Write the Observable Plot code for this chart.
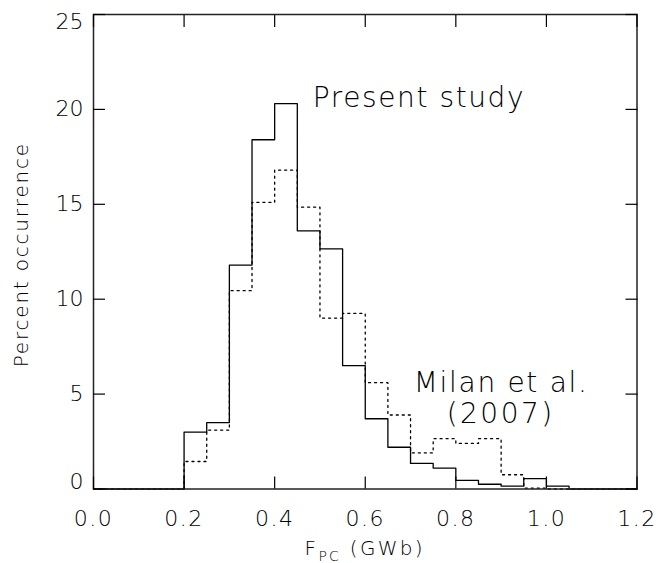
<!DOCTYPE html>
<html><head><meta charset="utf-8">
<script src="https://cdn.jsdelivr.net/npm/d3@7"></script>
<script src="https://cdn.jsdelivr.net/npm/@observablehq/plot@0.6"></script>
<style>body{margin:0;background:#fff} svg{display:block}</style>
</head><body><div id="chart"></div>
<script>
// Histogram bin starts (GWb), bin width 0.05
const binStarts = [0.20,0.25,0.30,0.35,0.40,0.45,0.50,0.55,0.60,0.65,0.70,0.75,0.80,0.85,0.90,0.95,1.00];
const binWidth = 0.05;
// Percent occurrence, present study (solid)
const presentStudy = [3.0,3.5,11.8,18.4,20.3,13.6,12.65,6.5,3.7,2.2,1.35,1.1,0.45,0.25,0.15,0.55,0.15];
// Percent occurrence, Milan et al. (2007) (dotted)
const milan2007 = [1.45,3.1,10.45,15.1,16.8,14.85,9.0,9.25,5.6,3.9,1.9,2.65,2.4,2.65,0.75,0.05,0];
const xTicks = [0.0,0.2,0.4,0.6,0.8,1.0,1.2];
const yTicks = [0,5,10,15,20,25];
const annotations = [
  {x:0.484, y:20.6, text:"Present study", anchor:"start"},
  {x:0.707, y:5.56, text:"Milan et al.", anchor:"start"},
  {x:0.899, y:3.95, text:"(2007)", anchor:"middle"}
];
const yLabel = "Percent occurrence";

function steps(values){
  const pts=[{x:xTicks[0],y:0}];
  binStarts.forEach((s,i)=>pts.push({x:s,y:values[i]}));
  pts.push({x:binStarts[binStarts.length-1]+binWidth,y:0});
  pts.push({x:xTicks[xTicks.length-1],y:0});
  return pts;
}

const font = "DejaVu Sans";
const xFmt = d3.format(".1f");
const plot = Plot.plot({
  width:664, height:563,
  marginLeft:93, marginRight:27.5, marginTop:14, marginBottom:74.5,
  style:{fontFamily:font, fontSize:"22px", fontWeight:200, color:"#000", background:"#fff"},
  x:{domain:[0,1.2]},
  y:{domain:[0,25]},
  marks:[
    Plot.line(steps(milan2007), {x:"x", y:"y", curve:"step-after", stroke:"#000", strokeWidth:1.3, strokeDasharray:"2,4"}),
    Plot.line(steps(presentStudy), {x:"x", y:"y", curve:"step-after", stroke:"#000", strokeWidth:1.3}),
    Plot.frame({stroke:"#222", strokeWidth:1.5}),
    Plot.axisX(xTicks, {anchor:"bottom", tickSize:-12, tickFormat:()=>"", label:null, strokeWidth:1.2}),
    Plot.axisX(xTicks, {anchor:"top", tickSize:-12, tickFormat:()=>"", label:null, strokeWidth:1.2}),
    Plot.axisY(yTicks, {anchor:"left", tickSize:-12, tickFormat:()=>"", label:null, strokeWidth:1.2}),
    Plot.axisY(yTicks, {anchor:"right", tickSize:-12, tickFormat:()=>"", label:null, strokeWidth:1.2}),
    Plot.axisX(xTicks, {anchor:"bottom", tickSize:0, tickPadding:21, tickFormat:xFmt, label:null, fill:"#000", fontSize:22}),
    Plot.axisY(yTicks.filter(d=>d>0 && d<25), {anchor:"left", tickSize:0, tickPadding:10, label:null, fill:"#000", fontSize:22}),
    Plot.axisY([yTicks[0]], {anchor:"left", tickSize:0, tickPadding:10, dy:-7.5, label:null, fill:"#000", fontSize:22}),
    Plot.axisY([yTicks[yTicks.length-1]], {anchor:"left", tickSize:0, tickPadding:10, dy:7.5, label:null, fill:"#000", fontSize:22}),
    Plot.text(annotations.filter(d=>d.anchor==="start"), {x:"x", y:"y", text:"text", textAnchor:"start", fontSize:28, fill:"#000"}),
    Plot.text(annotations.filter(d=>d.anchor==="middle"), {x:"x", y:"y", text:"text", textAnchor:"middle", fontSize:28, fill:"#000"}),
    Plot.text([yLabel], {frameAnchor:"left", textAnchor:"middle", rotate:-90, dx:-72.4, dy:3, text:d=>d, fontSize:20, fill:"#000"})
  ]
});
document.getElementById("chart").appendChild(plot);

const svg = d3.select(plot);
// Hershey-like wide spacing, applied by text content
const spacing = new Map([
  ["Present study","1.6px"], ["Milan et al.","1.7px"], ["(2007)","2.5px"], [yLabel,"1.8px"]
]);
xTicks.forEach(v=>spacing.set(xFmt(v),"1.5px"));
svg.selectAll("text").each(function(){
  const s = spacing.get(this.textContent);
  if (s) this.style.letterSpacing = s;
});

// x-axis label with subscript
const xs = plot.scale("x");
const xMid = xs.apply((xs.domain[0]+xs.domain[1])/2);
const t = svg.append("text")
  .attr("x", xMid).attr("y", 555)
  .attr("text-anchor","middle")
  .attr("font-family", font).attr("font-weight", 200).attr("font-size", 20).attr("fill","#000")
  .style("letter-spacing","2.3px");
t.append("tspan").text("F");
t.append("tspan").attr("font-size", 14).attr("dy", 6).text("PC");
t.append("tspan").attr("dy", -6).text(" (GWb)");
</script>
</body></html>
